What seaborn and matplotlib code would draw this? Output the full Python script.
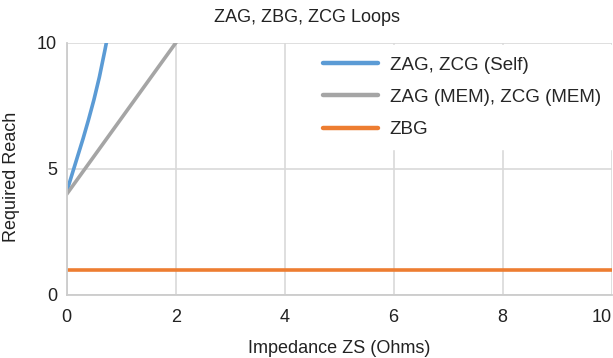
import matplotlib
matplotlib.use("Agg")
import matplotlib.pyplot as plt
import seaborn as sns
import pandas as pd

self_x = [0.0, 0.1, 0.2, 0.3, 0.4, 0.5, 0.6, 0.7, 0.75]
self_y = [4.1, 4.8, 5.5, 6.2, 6.95, 7.75, 8.65, 9.7, 10.25]
mem_x = [0.0, 2.0, 2.2]
mem_y = [4.0, 10.0, 10.6]
zbg_x = [0.0, 10.0]
zbg_y = [1.0, 1.0]

names = ["ZAG, ZCG (Self)", "ZAG (MEM), ZCG (MEM)", "ZBG"]
colors = ["#5B9BD5", "#A5A5A5", "#ED7D31"]

df = pd.concat([
    pd.DataFrame({"x": self_x, "y": self_y, "s": names[0]}),
    pd.DataFrame({"x": mem_x, "y": mem_y, "s": names[1]}),
    pd.DataFrame({"x": zbg_x, "y": zbg_y, "s": names[2]}),
])

sns.set_style("white")
plt.rcParams["font.family"] = ["Liberation Sans", "DejaVu Sans"]

FS = 13
fig = plt.figure(figsize=(6.13, 3.58), dpi=100)
ax = fig.add_axes([0.1088, 0.176, 0.889, 0.704])
sns.lineplot(data=df, x="x", y="y", hue="s", palette=colors, hue_order=names,
             linewidth=2.6, ax=ax, sort=False, estimator=None)
ax.set_xlim(0, 10)
ax.set_ylim(0, 10)
ax.set_xticks([0, 2, 4, 6, 8, 10])
ax.set_yticks([0, 5, 10])
ax.grid(True, color="#D9D9D9", linewidth=1.2)
ax.set_axisbelow(True)
for s in ["top", "right"]:
    ax.spines[s].set_visible(False)
for s in ["left", "bottom"]:
    ax.spines[s].set_color("#CCCCCC")
    ax.spines[s].set_linewidth(1.3)
ax.tick_params(axis="both", length=0, labelsize=FS, colors="#222222")
ax.tick_params(axis="x", pad=10)
ax.tick_params(axis="y", pad=7)
ax.get_xticklabels()[-1].set_horizontalalignment("right")
ax.set_xlabel("Impedance ZS (Ohms)", fontsize=FS, color="#222222", labelpad=10)
ax.set_ylabel("Required Reach", fontsize=FS, color="#222222")
ax.yaxis.set_label_coords(-0.085, 0.468)
fig.suptitle("ZAG, ZBG, ZCG Loops", fontsize=FS, y=0.975, color="#222222")
leg = ax.legend(loc="upper right", frameon=True, fontsize=13.5, handlelength=2.9,
                labelspacing=0.8, borderaxespad=0.0, borderpad=0.6,
                handletextpad=0.65, bbox_to_anchor=(1.001, 0.99))
leg.get_frame().set_facecolor("white")
leg.get_frame().set_edgecolor("white")
leg.get_frame().set_alpha(1)
leg.get_frame().set_boxstyle("square", pad=0)
for line in leg.get_lines():
    line.set_linewidth(3.2)
    line.set_solid_capstyle("round")
fig.savefig("out.png", dpi=100)
